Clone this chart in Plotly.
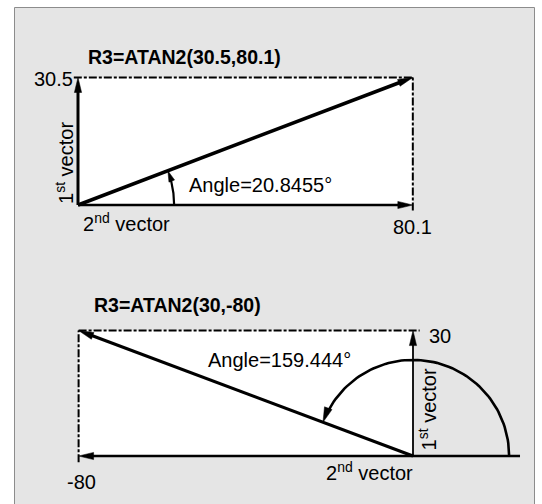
import numpy as np
import plotly.graph_objects as go

# ---------------- data ----------------
top_title = "R3=ATAN2(30.5,80.1)"
top_first = 30.5        # 1st vector (vertical component)
top_second = 80.1       # 2nd vector (horizontal component)
top_angle = 20.8455     # degrees
top_labels = ["30.5", "80.1"]

bot_title = "R3=ATAN2(30,-80)"
bot_first = 30
bot_second = -80
bot_angle = 159.444
bot_labels = ["30", "-80"]

arc_radius = 23
vec_names = ["1<sup>st</sup> vector", "2<sup>nd</sup> vector"]

# ---------------- layout constants ----------------
W, H = 542, 504
K = 4.18                     # pixels per data unit (equal aspect)
TOP_O = (78, 205)            # pixel position of data origin, top panel
BOT_O = (413, 456)           # pixel position of data origin, bottom panel
FONT = "Liberation Sans, Arial, sans-serif"

fig = go.Figure()


def add_line(xs, ys, width, ax, dash=None):
    fig.add_trace(go.Scatter(x=xs, y=ys, mode="lines", xaxis=ax[0], yaxis=ax[1],
                             line=dict(color="black", width=width, dash=dash),
                             hoverinfo="skip", showlegend=False))


def add_head(tip, d, Lpx, hwpx, ax):
    L, hw = Lpx / K, hwpx / K
    d = np.array(d, float)
    d /= np.hypot(*d)
    p = np.array([-d[1], d[0]])
    t = np.array(tip, float)
    b = t - d * L
    pts = [t, b + p * hw, b - p * hw, t]
    fig.add_trace(go.Scatter(x=[q[0] for q in pts], y=[q[1] for q in pts],
                             mode="lines", fill="toself", fillcolor="black",
                             line=dict(color="black", width=0.5),
                             xaxis=ax[0], yaxis=ax[1], hoverinfo="skip", showlegend=False))


def add_arrow(start, end, width, ax, Lpx=15, hwpx=3.6):
    s, e = np.array(start, float), np.array(end, float)
    d = e - s
    n = d / np.hypot(*d)
    e2 = e - n * (Lpx * 0.7 / K)
    add_line([s[0], e2[0]], [s[1], e2[1]], width, ax)
    add_head(e, d, Lpx, hwpx, ax)


def add_arc(theta_deg, r, width, ax, Lpx, hwpx):
    th = np.radians(theta_deg)
    delta = (Lpx * 0.7 / K) / r
    t = np.linspace(0, th - delta, 80)
    add_line(list(r * np.cos(t)), list(r * np.sin(t)), width, ax)
    add_head((r * np.cos(th), r * np.sin(th)), (-np.sin(th), np.cos(th)), Lpx, hwpx, ax)


def rect(x0, x1, y0, y1, ax):
    fig.add_trace(go.Scatter(x=[x0, x1, x1, x0, x0], y=[y0, y0, y1, y1, y0], mode="lines",
                             fill="toself", fillcolor="white", line=dict(width=0),
                             xaxis=ax[0], yaxis=ax[1], hoverinfo="skip", showlegend=False))


DASH = "8px,2px,3px,2px"
A1 = ("x", "y")
A2 = ("x2", "y2")

# ---------------- top panel ----------------
rect(0, top_second, 0, top_first, A1)
add_line([-1.0, top_second + 0.2], [top_first, top_first], 2, A1, DASH)
add_line([top_second, top_second], [-1.3, top_first], 2, A1, DASH)
add_arrow((0, 0), (top_second, 0), 2.6, A1)
add_arrow((0, 0), (0, top_first), 3, A1)
add_arrow((0, 0), (top_second, top_first), 3.5, A1)
add_arc(top_angle, arc_radius, 2.2, A1, 11, 3)

# ---------------- bottom panel ----------------
rect(bot_second, 0, 0, bot_first, A2)
add_line([bot_second, 1.6], [bot_first, bot_first], 2, A2, DASH)
add_line([bot_second, bot_second], [-1.5, bot_first], 2, A2, DASH)
add_arrow((25.6, 0), (bot_second, 0), 2.6, A2)
add_arrow((0, 0), (0, bot_first), 1.8, A2)
add_arrow((0, 0), (bot_second, bot_first), 3.2, A2)
add_arc(bot_angle, arc_radius, 2.6, A2, 15, 4)


# ---------------- text ----------------
def ann(text, x, y, ax, size=20, xanchor="center", angle=0):
    return dict(text=text, x=x, y=y, xref=ax[0], yref=ax[1], showarrow=False,
                xanchor=xanchor, yanchor="middle", textangle=angle,
                font=dict(family=FONT, size=size, color="black"))


annotations = [
    ann("<b>%s</b>" % top_title, 2.0, 35.4, A1, size=19.5, xanchor="left"),
    ann(top_labels[0], -0.6, top_first - 0.3, A1, xanchor="right"),
    ann(top_labels[1], top_second, -5.3, A1),
    ann(vec_names[0], -3.4, 10.0, A1, angle=-90),
    ann(vec_names[1], 0.7, -4.1, A1, xanchor="left"),
    ann("Angle=%s°" % top_angle, 26.0, 4.8, A1, xanchor="left"),

    ann("<b>%s</b>" % bot_title, -76.8, 36.1, A2, size=19.5, xanchor="left"),
    ann(bot_labels[0], 3.4, bot_first - 1.4, A2, xanchor="left"),
    ann(bot_labels[1], bot_second + 0.8, -6.2, A2),
    ann(vec_names[0], 3.4, 11.2, A2, angle=-90),
    ann(vec_names[1], -10.3, -3.8, A2),
    ann("Angle=%s°" % bot_angle, -49.5, 23.0, A2, xanchor="left"),
]


def rng_x(o):
    return [(0 - o[0]) / K, (W - o[0]) / K]


def rng_y(o):
    return [(o[1] - H) / K, o[1] / K]


ax_common = dict(visible=False, showgrid=False, zeroline=False, fixedrange=True)
fig.update_layout(
    width=W, height=H,
    margin=dict(l=0, r=0, t=0, b=0, pad=0),
    paper_bgcolor="white", plot_bgcolor="rgba(0,0,0,0)",
    xaxis=dict(domain=[0, 1], range=rng_x(TOP_O), anchor="y", **ax_common),
    yaxis=dict(domain=[0, 1], range=rng_y(TOP_O), anchor="x", **ax_common),
    xaxis2=dict(domain=[0, 1], range=rng_x(BOT_O), anchor="y2", **ax_common),
    yaxis2=dict(domain=[0, 1], range=rng_y(BOT_O), anchor="x2", **ax_common),
    annotations=annotations,
    shapes=[dict(type="rect", xref="paper", yref="paper",
                 x0=14.5 / W, x1=534.5 / W, y0=-0.02, y1=(H - 7.5) / H,
                 line=dict(color="#8c8c8c", width=1), fillcolor="#e5e5e5", layer="below")],
    showlegend=False,
)

fig.write_html(
    "out.html",
    config={"displayModeBar": False},
    post_script="document.body.style.margin='0';document.body.style.overflow='hidden';",
)
